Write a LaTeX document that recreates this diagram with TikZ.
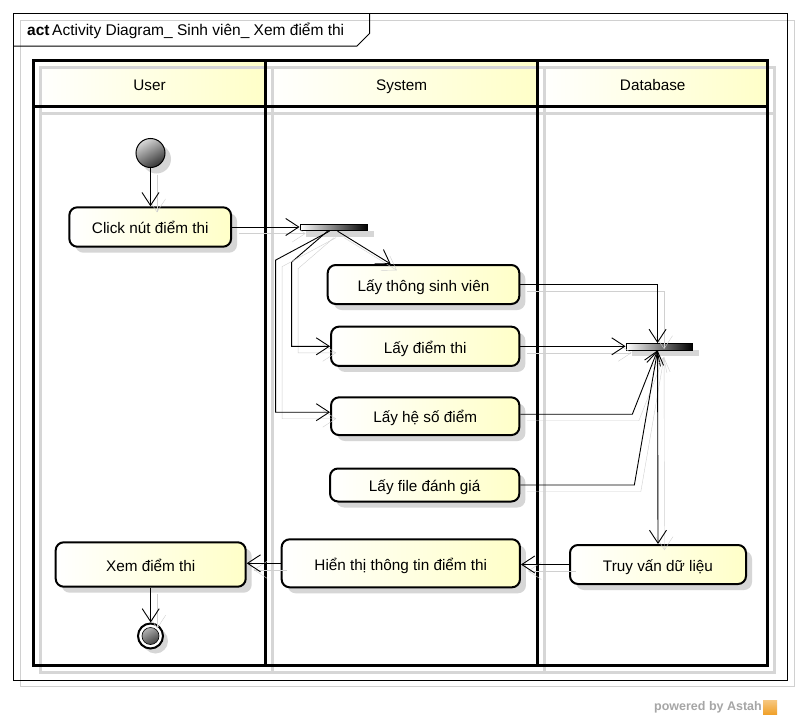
\documentclass[tikz,border=0pt]{standalone}
\usepackage{fontspec}
\setmainfont{Liberation Sans}
\usetikzlibrary{arrows.meta,shadows,calc}
\definecolor{ayellow}{RGB}{255,255,200}
\definecolor{nshade}{RGB}{214,214,214}
\definecolor{lshade}{RGB}{208,208,208}
\definecolor{astahorange}{RGB}{240,160,40}
\begin{document}
\begin{tikzpicture}[x=1pt,y=-1pt,
  every node/.style={font=\fontsize{15.3}{18}\selectfont},
  act/.style={draw, line width=2pt, rounded corners=8pt, left color=white, right color=ayellow,
    inner sep=0pt, text height=13.5pt, text depth=0pt,
    drop shadow={shadow xshift=6pt, shadow yshift=-6pt, fill=nshade, opacity=1}},
  bar/.style={draw, line width=0.8pt, left color=white, right color=black, inner sep=0pt,
    minimum height=6.5pt, drop shadow={shadow xshift=6.5pt, shadow yshift=-6.5pt, fill=nshade, opacity=1}},
  hdr/.style={left color=white, right color=ayellow, inner sep=0pt, text height=14pt, text depth=0pt},
  flow/.style={line width=0.9pt, -{Straight Barb[length=13pt,width=17pt,line width=0.9pt]},
    preaction={draw=lshade, transform canvas={shift={(6.5pt,-6.5pt)}}}},
  lanesh/.style={line width=3pt, draw=nshade},
  lane/.style={line width=3pt, draw=black}
]
\useasboundingbox (0,0) rectangle (801,720);
\fill[white] (0,0) rectangle (801,720);

% frame
\draw[lshade, line width=1pt] (20.5,20.5) rectangle (794.5,686.5);
\draw[line width=1pt] (13.5,13.5) rectangle (787.5,680.3);
\draw[line width=1pt] (13.5,46) -- (357,46) -- (369.5,33.5) -- (369.5,13.5);
\node[anchor=west, inner sep=0pt, font=\fontsize{15.5}{18}\selectfont] (title) at (27,31) {{\bfseries act}\,Activity Diagram\_ Sinh viên\_ Xem điểm thi};

% lane headers
\node[hdr, minimum width=232.2pt, minimum height=45.5pt] (huser) at (149.6,83.25) {User};
\node[hdr, minimum width=272pt, minimum height=45.5pt] (hsys) at (401.7,83.25) {System};
\node[hdr, minimum width=230pt, minimum height=45.5pt] (hdb) at (652.7,83.25) {Database};

% lane shadows
\draw[lanesh] (40.5,67.5) rectangle (774.7,672);
\draw[lanesh] (272.7,67.5) -- (272.7,672);
\draw[lanesh] (544.7,67.5) -- (544.7,672);
\draw[lanesh] (40.5,113) -- (774.7,113);
% lanes
\draw[lane] (33.5,60.5) rectangle (767.7,665);
\draw[lane] (265.7,60.5) -- (265.7,665);
\draw[lane] (537.7,60.5) -- (537.7,665);
\draw[lane] (33.5,106) -- (767.7,106);

% nodes
\node[circle, draw, line width=1pt, minimum size=29pt, inner sep=0pt,
  top color=gray!30, bottom color=black!80, shading angle=30,
  drop shadow={shadow xshift=6pt, shadow yshift=-6pt, fill=nshade, opacity=1}] (init) at (150.5,153) {};
\node[act, minimum width=161.7pt, minimum height=39.4pt] (click) at (150.2,227) {Click nút điểm thi};
\node[bar, minimum width=67.7pt] (fork1) at (333.8,227.5) {};
\node[act, minimum width=191.6pt, minimum height=39pt] (lay1) at (423.5,284.5) {Lấy thông sinh viên};
\node[act, minimum width=188.3pt, minimum height=39.3pt] (lay2) at (425.2,346.3) {Lấy điểm thi};
\node[act, minimum width=188.3pt, minimum height=37.7pt] (lay3) at (425.2,416.2) {Lấy hệ số điểm};
\node[act, minimum width=189.3pt, minimum height=33pt] (lay4) at (424.7,485) {Lấy file đánh giá};
\node[bar, minimum width=66.7pt] (join) at (659.3,346.7) {};
\node[act, minimum width=176pt, minimum height=39pt] (truy) at (658,564.5) {Truy vấn dữ liệu};
\node[act, minimum width=238.3pt, minimum height=48pt] (hien) at (400.8,563.3) {Hiển thị thông tin điểm thi};
\node[act, minimum width=190pt, minimum height=44.4pt] (xem) at (150.7,564.5) {Xem điểm thi};
\node[circle, draw, line width=2pt, fill=white, minimum size=25pt, inner sep=0pt,
  drop shadow={shadow xshift=5pt, shadow yshift=-5pt, fill=nshade, opacity=1},
  path picture={\shade[top color=gray!40, bottom color=black!85, shading angle=30, draw=black, line width=0.6pt]
    (path picture bounding box.center) circle (8.5pt);}] (final) at (150.5,636) {};

% connectors
\draw[flow] (init.south) -- (init.south |- click.north);
\draw[flow] (click.east) -- (click.east -| fork1.west);
\draw[flow] ([xshift=38pt]fork1.south west) -- ([xshift=64pt]lay1.north west);
\draw[flow] ([xshift=28pt]fork1.south west) -- ++(-36,31) |- (lay2.west);
\draw[flow] ([xshift=30pt]fork1.south west) -- ++(-54,29) |- ([yshift=4pt]lay3.west);
\draw[flow] (lay1.east) -| ([xshift=32pt]join.north west);
\draw[flow] (lay2.east) -- (lay2.east -| join.west);
\draw[flow] ([yshift=2pt]lay3.east) -- ++(112,0) -- ([xshift=32pt]join.south west);
\draw[flow] (lay4.east) -- ++(114,0) -- ([xshift=32pt]join.south west);
\draw[flow] ([xshift=32pt]join.south west) -- (truy.north);
\draw[flow] (truy.west) -- (truy.west -| hien.east);
\draw[flow] (hien.west) -- (hien.west -| xem.east);
\draw[flow] (xem.south) -- (xem.south |- final.north);

% watermark
\node[anchor=east, inner sep=0pt, text=black!35, font=\bfseries\fontsize{12.5}{14}\selectfont] (wm) at (762,707.5) {powered by Astah};
\node[anchor=west, inner sep=0pt, minimum size=14pt, top color=astahorange!60, bottom color=astahorange] (logo) at ([xshift=1pt]wm.east) {};
\end{tikzpicture}
\end{document}
